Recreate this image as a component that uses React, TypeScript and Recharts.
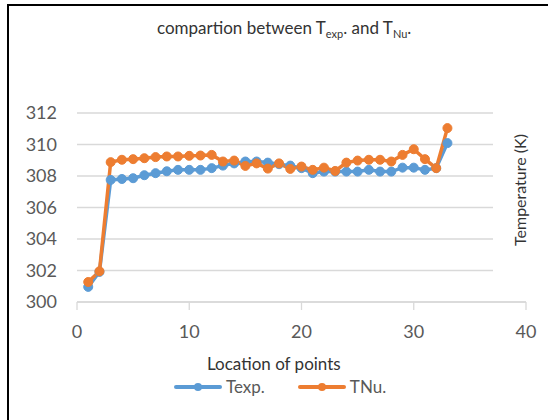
import React from "react";
import { LineChart, Line, XAxis, YAxis, CartesianGrid, Legend } from "recharts";

const locations = [
  1, 2, 3, 4, 5, 6, 7, 8, 9, 10, 11, 12, 13, 14, 15, 16, 17, 18, 19, 20, 21, 22,
  23, 24, 25, 26, 27, 28, 29, 30, 31, 32, 33,
];

const tExp = [
  300.96, 301.91, 307.75, 307.81, 307.86, 308.05, 308.18, 308.3, 308.39, 308.39,
  308.39, 308.5, 308.66, 308.8, 308.92, 308.92, 308.85, 308.75, 308.66, 308.5,
  308.18, 308.28, 308.28, 308.28, 308.28, 308.39, 308.28, 308.28, 308.53, 308.53,
  308.39, 308.5, 310.09,
];

const tNu = [
  301.27, 301.95, 308.88, 309.03, 309.07, 309.13, 309.2, 309.24, 309.24, 309.28,
  309.3, 309.34, 308.92, 308.98, 308.64, 308.8, 308.47, 308.8, 308.45, 308.6,
  308.39, 308.53, 308.32, 308.85, 308.98, 309.03, 309.03, 308.92, 309.34, 309.7,
  309.07, 308.5, 311.04,
];

const seriesNames = ["Texp.", "TNu."];
const xTicks = [0, 10, 20, 30, 40];
const yTicks = [300, 302, 304, 306, 308, 310, 312];

const BLUE = "#5B9BD5";
const ORANGE = "#ED7D31";
const FONT = "Lato, 'Noto Sans', sans-serif";

const data = locations.map((x, i) => ({ x, texp: tExp[i], tnu: tNu[i] }));

function LegendContent(props: any) {
  const items = [...(props.payload || [])].sort(
    (a: any, b: any) => seriesNames.indexOf(a.value) - seriesNames.indexOf(b.value)
  );
  return (
    <div style={{ display: "flex", alignItems: "center", fontFamily: FONT }}>
      {items.map((item: any, i: number) => (
        <div
          key={item.value}
          style={{ display: "flex", alignItems: "center", marginRight: i === 0 ? 33 : 0 }}
        >
          <svg width={48} height={20}>
            <line x1={2} y1={10} x2={46} y2={10} stroke={item.color} strokeWidth={4} strokeLinecap="round" />
            <circle cx={24} cy={10} r={4} fill={item.color} />
          </svg>
          <span style={{ marginLeft: 4, fontSize: 17, color: "#595959" }}>{item.value}</span>
        </div>
      ))}
    </div>
  );
}

export default function App() {
  return (
    <div
      style={{
        position: "absolute",
        left: 0,
        top: 0,
        width: 548,
        height: 420,
        background: "#fff",
        overflow: "hidden",
        fontFamily: FONT,
      }}
    >
      <div
        style={{
          position: "absolute",
          left: 7,
          top: 4,
          width: 560,
          height: 440,
          borderLeft: "2px solid #000",
          borderTop: "2px solid #000",
        }}
      />
      <div
        style={{
          position: "absolute",
          left: 157,
          top: 17,
          whiteSpace: "nowrap",
          fontSize: 17,
          color: "#333",
        }}
      >
        compartion between T<sub style={{ fontSize: 11 }}>exp</sub>. and T
        <sub style={{ fontSize: 11 }}>Nu</sub>.
      </div>
      <div style={{ position: "absolute", left: 0, top: 0 }}>
        <LineChart
          width={548}
          height={420}
          data={data}
          margin={{ top: 113, right: 22, left: 17, bottom: 78 }}
        >
          <CartesianGrid vertical={false} stroke="#D9D9D9" strokeWidth={1.3} />
          <XAxis
            dataKey="x"
            type="number"
            domain={[0, 40]}
            ticks={xTicks}
            height={40}
            stroke="#D9D9D9"
            strokeWidth={1.3}
            tickSize={8}
            tickMargin={15}
            tick={{ fill: "#595959", fontSize: 18, fontFamily: FONT }}
          />
          <YAxis
            domain={[300, 312]}
            ticks={yTicks}
            width={60}
            axisLine={false}
            tickLine={false}
            tickSize={6}
            tickMargin={14}
            tick={{ fill: "#595959", fontSize: 18, fontFamily: FONT }}
          />
          <Legend
            layout="horizontal"
            verticalAlign="middle"
            align="center"
            content={<LegendContent />}
            wrapperStyle={{ left: 174, top: 376, width: "auto" }}
          />
          <Line
            dataKey="texp"
            name="Texp."
            stroke={BLUE}
            strokeWidth={3.5}
            dot={{ r: 4.5, fill: BLUE, stroke: BLUE, strokeWidth: 1 }}
            activeDot={false}
            isAnimationActive={false}
          />
          <Line
            dataKey="tnu"
            name="TNu."
            stroke={ORANGE}
            strokeWidth={3.5}
            dot={{ r: 4.5, fill: ORANGE, stroke: ORANGE, strokeWidth: 1 }}
            activeDot={false}
            isAnimationActive={false}
          />
        </LineChart>
      </div>
      <div
        style={{
          position: "absolute",
          left: 207,
          top: 353,
          fontSize: 17,
          color: "#333",
          whiteSpace: "nowrap",
        }}
      >
        Location of points
      </div>
      <div
        style={{
          position: "absolute",
          left: 493,
          top: 100,
          width: 55,
          height: 192,
          background: "#fff",
        }}
      >
        <span
          style={{
            position: "absolute",
            left: 26,
            top: 90,
            transform: "translate(-50%, -50%) rotate(-90deg)",
            whiteSpace: "nowrap",
            fontSize: 16,
            color: "#333",
          }}
        >
          Temperature (K)
        </span>
      </div>
    </div>
  );
}
